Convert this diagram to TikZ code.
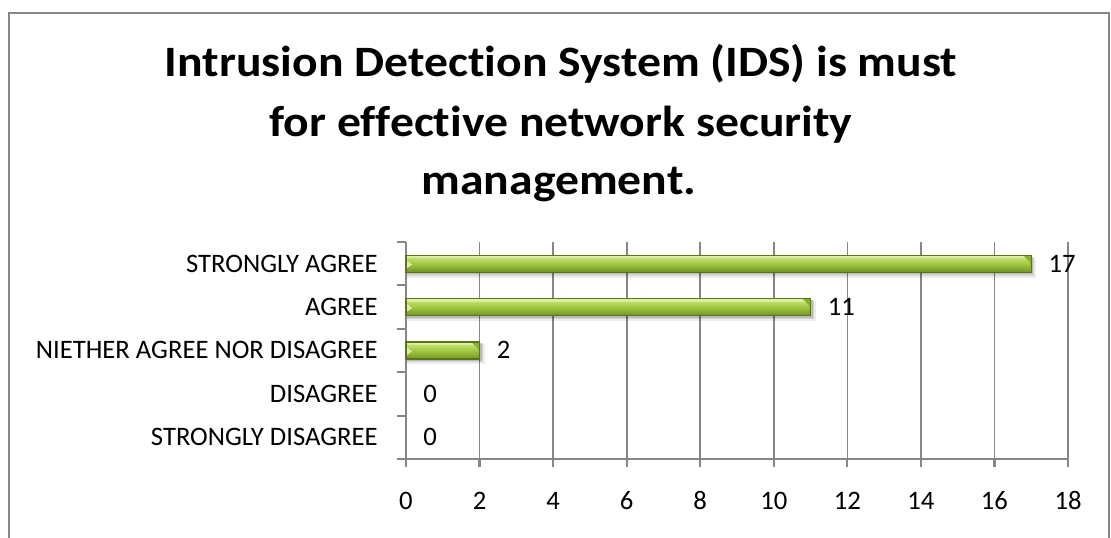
\documentclass[tikz,border=0pt]{standalone}
\usepackage{fontspec}
\setmainfont{Carlito}[Ligatures=NoCommon]
\usetikzlibrary{calc}
\definecolor{gridgray}{HTML}{868686}
\definecolor{bartop}{HTML}{CDEA7E}
\definecolor{barmid}{HTML}{A0C842}
\definecolor{barbot}{HTML}{729226}
\definecolor{baredge}{HTML}{587618}
\definecolor{barface}{HTML}{8AAE34}
\tikzset{
  frame/.style={draw=gridgray, line width=1.6},
  gridline/.style={draw=gridgray, line width=1.3},
  axisline/.style={draw=gridgray, line width=1.6},
  titletext/.style={font=\fontsize{32.5}{38}\selectfont\bfseries, anchor=base, inner sep=0},
  cattext/.style={font=\fontsize{20}{24}\selectfont, anchor=base east, inner sep=0},
  valtext/.style={font=\fontsize{20}{24}\selectfont, anchor=base west, inner sep=0},
  ticktext/.style={font=\fontsize{20}{24}\selectfont, anchor=base, inner sep=0},
}
\newcommand{\widetitle}[1]{\scalebox{1.1}[1]{#1}}
\begin{document}
\begin{tikzpicture}[x=0.75pt, y=-0.75pt]
\useasboundingbox (0,0) rectangle (1111,538);
% outer chart frame (runs past the lower edge)
\draw[frame] (9,13) rectangle (1109,600);

% title
\node[titletext] (title1) at (561,77) {\widetitle{Intrusion Detection System (IDS) is must}};
\node[titletext] (title2) at (561,137) {\widetitle{for effective network security}};
\node[titletext] (title3) at (559,195) {\widetitle{management.}};

% plot geometry: x0 = 406, 36.78 px per unit, top 242, bottom 459
\def\xz{406}
\def\ux{36.78}
\def\yt{242}
\def\yb{459}
\def\dy{43.4}

% vertical gridlines and value-axis ticks
\foreach \v in {2,4,...,18} {
  \draw[gridline] ({\xz+\v*\ux},\yt) -- ({\xz+\v*\ux},\yb);
}
\foreach \v in {0,2,...,18} {
  \draw[axisline] ({\xz+\v*\ux},\yb) -- ({\xz+\v*\ux},\yb+8);
  \node[ticktext] (tick\v) at ({\xz+\v*\ux},509) {\v};
}

% category axis and ticks
\draw[axisline] (\xz,\yt) -- (\xz,\yb);
\draw[axisline] (397,\yb) -- ({\xz+18*\ux},\yb);
\foreach \i in {0,...,4} {
  \draw[axisline] (397,{\yt+\i*\dy}) -- (\xz,{\yt+\i*\dy});
}

% bars with category and value labels
\foreach \i/\val/\lab in {0/17/STRONGLY AGREE, 1/11/AGREE, 2/2/NIETHER AGREE NOR DISAGREE, 3/0/DISAGREE, 4/0/STRONGLY DISAGREE} {
  \pgfmathsetmacro{\yc}{\yt+(\i+0.5)*\dy}
  \pgfmathsetmacro{\xe}{\xz+\val*\ux}
  \node[cattext] (cat\i) at (378,\yc+8.5) {\lab};
  \ifnum\val>0
    % soft drop shadow
    \fill[black, opacity=0.07] (\xz+1,\yc-6) rectangle (\xe+5,\yc+14);
    \fill[black, opacity=0.10] (\xz+1,\yc-7) rectangle (\xe+3,\yc+12);
    \fill[black, opacity=0.12] (\xz+1,\yc-7) rectangle (\xe+2,\yc+10.5);
    % bar body
    \shade[top color=bartop, bottom color=barbot, middle color=barmid]
      (\xz,\yc-8.5) rectangle (\xe,\yc+8.5);
    % top highlight
    \fill[white, opacity=0.35] (\xz,\yc-8.5) rectangle (\xe,\yc-5.5);
    % bevelled ends
    \fill[barface] (\xe-8,\yc-8.5) -- (\xe,\yc-8.5) -- (\xe,\yc+8.5) -- (\xe-1,\yc+8.5) -- (\xe-1,\yc-1) -- cycle;
    \fill[bartop!70!white] (\xz,\yc-4) -- (\xz+6,\yc+1) -- (\xz,\yc+5) -- cycle;
    \draw[baredge, line width=0.8] (\xz,\yc-8.5) rectangle (\xe,\yc+8.5);
  \fi
  \node[valtext] (val\i) at (\xe+17,\yc+8.5) {\val};
}
\end{tikzpicture}
\end{document}
